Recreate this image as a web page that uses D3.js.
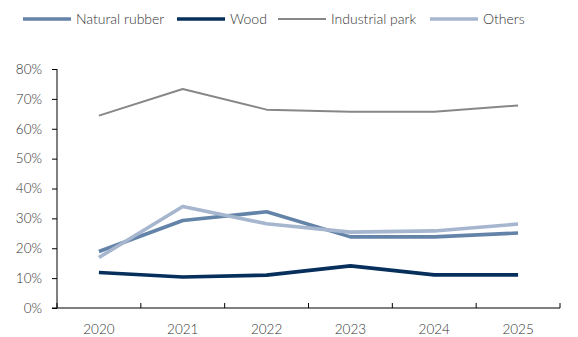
<!DOCTYPE html>
<html>
<head>
<meta charset="utf-8">
<script src="https://cdn.jsdelivr.net/npm/d3@7"></script>
<style>
  html, body { margin: 0; padding: 0; background: #fff; }
  svg { display: block; }
  text { font-family: "Source Sans Pro", Lato, "Noto Sans", sans-serif; font-weight: 300; fill: #333; }
</style>
</head>
<body>
<svg id="chart" width="578" height="337"></svg>
<script>
// Years on the category axis
const years = ["2020", "2021", "2022", "2023", "2024", "2025"];

// Share of each segment, in percent
const naturalRubber = [18.9, 29.3, 32.2, 23.8, 23.8, 25.1];
const wood = [11.9, 10.4, 11.0, 14.1, 11.1, 11.1];
const industrialPark = [64.4, 73.3, 66.4, 65.7, 65.7, 67.8];
const others = [16.9, 34.0, 28.2, 25.4, 25.8, 28.1];

const yTicks = [0, 10, 20, 30, 40, 50, 60, 70, 80];

const series = [
  { name: "Natural rubber", values: naturalRubber, color: "#6483a8", width: 3.6 },
  { name: "Wood", values: wood, color: "#062f5c", width: 3.6 },
  { name: "Industrial park", values: industrialPark, color: "#878787", width: 2 },
  { name: "Others", values: others, color: "#a6b6cf", width: 3.6 }
];

const svg = d3.select("#chart");
const margin = { left: 57, right: 18, top: 69, bottom: 29 };
const W = 578, H = 337;

const x = d3.scaleBand().domain(years).range([margin.left, W - margin.right]);
const y = d3.scaleLinear().domain([0, 80]).range([H - margin.bottom, margin.top]);

// Y axis
const yAxis = svg.append("g")
  .attr("transform", `translate(${margin.left},0)`)
  .call(d3.axisLeft(y).tickValues(yTicks).tickSize(5).tickPadding(10).tickFormat(d => d + "%"));
yAxis.selectAll("path, line").attr("stroke", "#000");
yAxis.select(".domain").attr("d", `M0,${y(0)}V${y(80)}`);
yAxis.selectAll("text").style("font-size", "13.5px").attr("fill", "#333");

// X axis with ticks between categories, pointing into the plot
const xAxisG = svg.append("g").attr("transform", `translate(0,${y(0)})`);
xAxisG.append("line")
  .attr("x1", margin.left - 5).attr("x2", W - margin.right)
  .attr("stroke", "#000");
const boundaries = years.map(d => x(d)).concat([x(years[years.length - 1]) + x.bandwidth()]);
xAxisG.selectAll(".xt").data(boundaries).join("line")
  .attr("x1", d => d).attr("x2", d => d)
  .attr("y1", 0).attr("y2", -5)
  .attr("stroke", "#000");
xAxisG.selectAll(".xl").data(years).join("text")
  .attr("x", d => x(d) + x.bandwidth() / 2)
  .attr("y", 26)
  .attr("text-anchor", "middle")
  .style("font-size", "13.5px")
  .text(d => d);

// Lines
const line = d3.line()
  .x((d, i) => x(years[i]) + x.bandwidth() / 2)
  .y(d => y(d));

svg.append("g").selectAll("path").data(series).join("path")
  .attr("d", d => line(d.values))
  .attr("fill", "none")
  .attr("stroke", d => d.color)
  .attr("stroke-width", d => d.width)
  .attr("stroke-linejoin", "round");

// Legend
const legendX = [23, 177, 278, 430];
const legend = svg.append("g").selectAll("g").data(series).join("g")
  .attr("transform", (d, i) => `translate(${legendX[i]},19)`);
legend.append("line")
  .attr("x1", 0).attr("x2", 48)
  .attr("stroke", d => d.color)
  .attr("stroke-width", d => d.width);
legend.append("text")
  .attr("x", 53).attr("y", 0)
  .attr("dy", "0.35em")
  .style("font-size", "14px")
  .text(d => d.name);
</script>
</body>
</html>
